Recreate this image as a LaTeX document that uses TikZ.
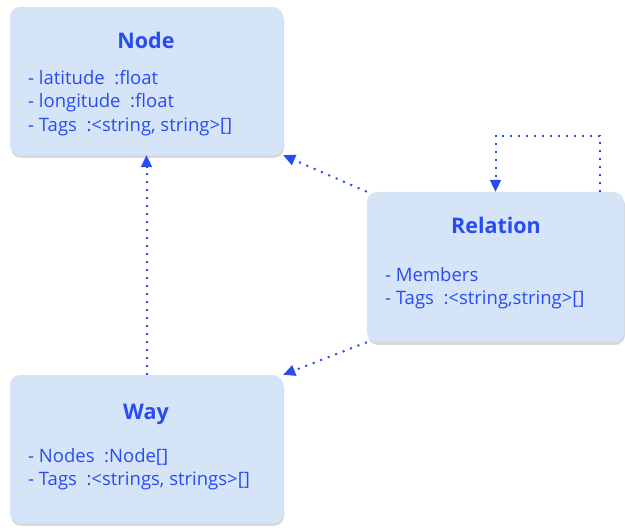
\documentclass[tikz,border=0pt]{standalone}
\usepackage{fontspec}
\setmainfont{Open Sans}
\usetikzlibrary{positioning,arrows.meta,shadows}
\definecolor{umlblue}{RGB}{40,76,242}
\definecolor{umlfill}{RGB}{214,228,248}

\begin{document}
\begin{tikzpicture}[x=1pt,y=1pt]
    \useasboundingbox (0,0) rectangle (625,528);
    \begin{scope}[
        umlbox/.style={rectangle, rounded corners=10pt, fill=umlfill, inner sep=0pt,
            minimum width=273pt, minimum height=148pt,
            drop shadow={shadow xshift=1pt, shadow yshift=-3pt, opacity=0.3, fill=gray}},
        umltitle/.style={font=\fontsize{21.5}{25}\selectfont\bfseries, text=umlblue},
        umlattr/.style={font=\fontsize{18.5}{23.5}\selectfont, text=umlblue, align=left,
            anchor=north west, inner sep=0pt},
        umllink/.style={umlblue, line width=2pt, dash pattern=on 2pt off 6pt,
            -{Triangle[length=12pt,width=11pt]}}]
    % classes
    \node [umlbox] (node) at (146.5,447) {};
    \node [umlbox, minimum width=257pt, minimum height=150pt] (relation) at (495.5,261) {};
    \node [umlbox] (way) at (146.5,79) {};
    % titles and attributes
    \node [umltitle] (nodetitle) at (146,488) {Node};
    \node [umlattr] (nodeattr) at (28,458) {- latitude\ \ :float\\- longitude\ \ :float\\- Tags\ \ :<string, string>[]};
    \node [umltitle] (reltitle) at (496,303) {Relation};
    \node [umlattr] (relattr) at (385,261) {- Members\\- Tags\ \ :<string,string>[]};
    \node [umltitle] (waytitle) at (146,114) {Way};
    \node [umlattr] (wayattr) at (28,80) {- Nodes\ \ :Node[]\\- Tags\ \ :<strings, strings>[]};
    % links
    \draw [umllink] (way.north) -- (node.south);
    \draw [umllink] (relation.north west) -- (node.south east);
    \draw [umllink] (relation.south west) -- (way.north east);
    \draw [umllink] ([xshift=-24pt]relation.north east) -- ++(0,56) -| (relation.north);
    \end{scope}
\end{tikzpicture}
\end{document}
